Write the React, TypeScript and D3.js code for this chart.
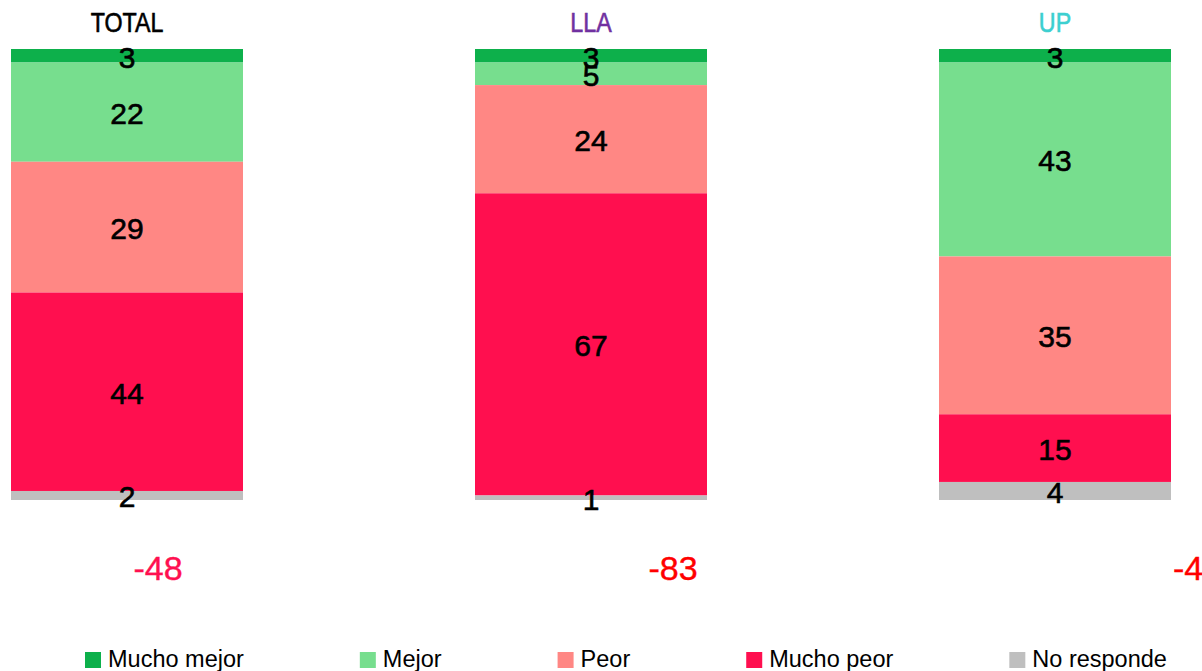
import React from "react"
import * as d3 from "d3"

const groups = ["TOTAL", "LLA", "UP"]
const groupColors = ["#000000", "#7030A0", "#3CCFD0"]
const netColors = ["#FF1050", "#FF0000", "#FF0000"]

const series = ["Mucho mejor", "Mejor", "Peor", "Mucho peor", "No responde"]
const seriesColors = ["#0DB04B", "#77DE8E", "#FF8784", "#FF0F4F", "#BFBFBF"]

const muchoMejor = [3, 3, 3]
const mejor = [22, 5, 43]
const peor = [29, 24, 35]
const muchoPeor = [44, 67, 15]
const noResponde = [2, 1, 4]

const W = 1202
const H = 671
const FONT = "'Liberation Sans', Arial, sans-serif"

const App = () => {
	const values = [muchoMejor, mejor, peor, muchoPeor, noResponde]

	// bars
	const x = d3
		.scaleBand()
		.domain(groups)
		.range([-105, 1287])
		.paddingInner(0.5)
		.paddingOuter(0.25)
	const y = d3.scaleLinear().domain([0, 100]).range([49, 500])

	// net balance labels sit on their own axis
	const xNet = d3.scalePoint().domain(groups).range([158, 1188])

	const rows = groups.map((g, i) => {
		const row = { group: g }
		series.forEach((s, j) => (row[s] = values[j][i]))
		return row
	})
	const stacked = d3.stack().keys(series)(rows)

	const net = groups.map(
		(_, i) => muchoMejor[i] + mejor[i] - peor[i] - muchoPeor[i],
	)

	// legend layout: square, text, gap
	const measure = (s: string) => {
		const c = document.createElement("canvas").getContext("2d")
		c.font = `23.5px ${FONT}`
		return c.measureText(s).width
	}
	let lx = 85
	const legendPos = series.map(s => {
		const p = lx
		lx += 23 + measure(s) + 116
		return p
	})

	return (
		<svg
			width={W}
			height={H}
			style={{ position: "fixed", left: 0, top: 0, background: "#fff" }}
		>
			{groups.map((g, i) => {
				const cx = x(g) + x.bandwidth() / 2
				return (
					<text
						key={g}
						transform={`translate(${cx},32) scale(0.83,1)`}
						textAnchor="middle"
						fontFamily={FONT}
						fontSize={28}
						fill={groupColors[i]}
						stroke={groupColors[i]}
						strokeWidth={0.6}
					>
						{g}
					</text>
				)
			})}

			{stacked.map((layer, j) => (
				<g key={layer.key}>
					{layer.map((d, i) => (
						<rect
							key={i}
							x={x(groups[i])}
							y={y(d[0])}
							width={x.bandwidth()}
							height={y(d[1]) - y(d[0])}
							fill={seriesColors[j]}
						/>
					))}
				</g>
			))}

			{stacked.map(layer => (
				<g key={layer.key + "-lbl"}>
					{layer.map((d, i) => (
						<text
							key={i}
							x={x(groups[i]) + x.bandwidth() / 2}
							y={(y(d[0]) + y(d[1])) / 2 + 12}
							textAnchor="middle"
							fontFamily={FONT}
							fontSize={30}
							fill="#000"
							stroke="#000"
							strokeWidth={0.6}
						>
							{d[1] - d[0]}
						</text>
					))}
				</g>
			))}

			{groups.map((g, i) => (
				<text
					key={g + "-net"}
					x={xNet(g)}
					y={580}
					textAnchor="middle"
					fontFamily={FONT}
					fontSize={34}
					fill={netColors[i]}
					stroke={netColors[i]}
					strokeWidth={0.4}
				>
					{net[i]}
				</text>
			))}

			{series.map((s, j) => (
				<g key={s} transform={`translate(${legendPos[j]},0)`}>
					<rect x={0} y={652} width={16} height={16} fill={seriesColors[j]} />
					<text x={23} y={667} fontFamily={FONT} fontSize={23.5} fill="#000">
						{s}
					</text>
				</g>
			))}
		</svg>
	)
}

export default App
